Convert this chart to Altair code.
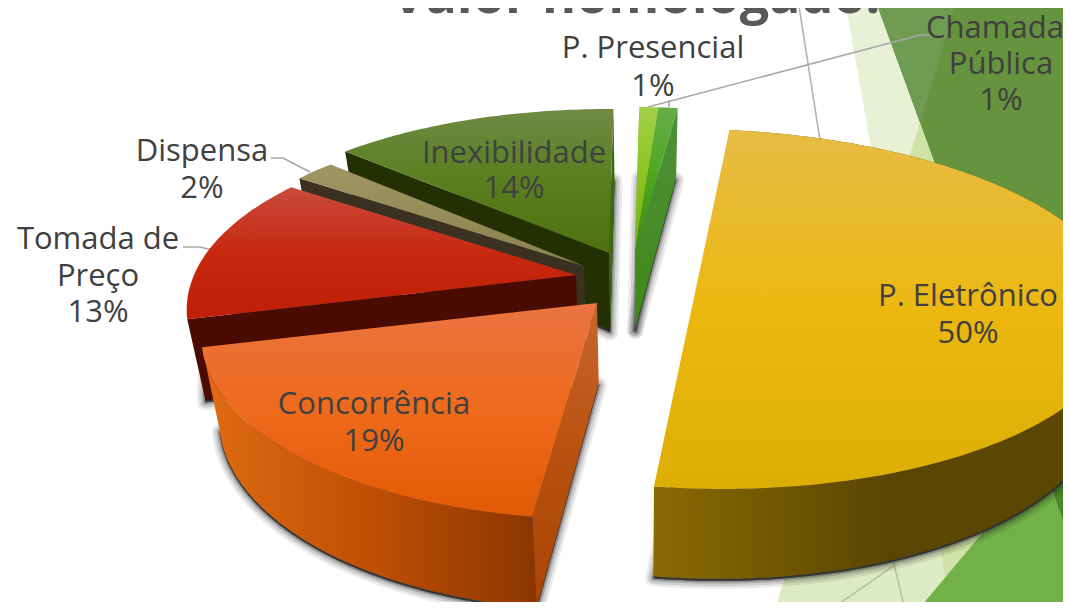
import math
import altair as alt
import pandas as pd

# ---- data
categories = ["P. Eletrônico", "Concorrência", "Tomada de Preço", "Dispensa",
              "Inexibilidade", "P. Presencial", "Chamada Pública"]
values = [50, 19, 13, 2, 14, 1, 1]

label_text = ["Chamada", "Pública", "1%", "P. Presencial", "1%", "Dispensa", "2%",
              "Tomada de", "Preço", "13%", "Inexibilidade", "14%",
              "P. Eletrônico", "50%", "Concorrência", "19%"]
label_x = [995, 1001, 1001, 653, 653, 202, 202, 98, 98, 98, 514, 514, 968, 968, 374, 374]
label_y = [29, 65, 101, 49, 87, 152, 189, 240, 277, 313, 154, 189, 297, 334, 405, 442]

# ---- scales and helpers
W, H = 1055, 594
SX = alt.Scale(domain=[8, 1063], nice=False, zero=False)
SY = alt.Scale(domain=[8, 602], nice=False, zero=False, reverse=True)
ROT, KP = 8.0, 0.2


def grad(colors, horizontal=False):
    n = len(colors) - 1
    stops = [alt.GradientStop(offset=i / n, color=c) for i, c in enumerate(colors)]
    if horizontal:
        return alt.Gradient(gradient="linear", stops=stops, x1=0, x2=1, y1=0, y2=0)
    return alt.Gradient(gradient="linear", stops=stops, x1=0, x2=0, y1=0, y2=1)


def poly(pts, **mark):
    df = pd.DataFrame({"x": [p[0] for p in pts], "y": [p[1] for p in pts],
                       "i": list(range(len(pts)))})
    mark.setdefault("strokeWidth", 0)
    return alt.Chart(df).mark_line(interpolate="linear-closed", clip=True, **mark).encode(
        x=alt.X("x:Q", scale=SX, axis=None),
        y=alt.Y("y:Q", scale=SY, axis=None),
        order=alt.Order("i:Q"),
    )


def path(pts, color="#a8a8a8", width=1.6):
    df = pd.DataFrame({"x": [p[0] for p in pts], "y": [p[1] for p in pts],
                       "i": list(range(len(pts)))})
    return alt.Chart(df).mark_line(color=color, strokeWidth=width, clip=True).encode(
        x=alt.X("x:Q", scale=SX, axis=None),
        y=alt.Y("y:Q", scale=SY, axis=None),
        order=alt.Order("i:Q"),
    )


def down(p):
    return (p[0] + (640 - p[0]) * 0.04, p[1] + 70 + (p[1] - 107) * 0.052)


def arc(apex, a0, a1, rx=382, ry=180, shear=0):
    n = max(int(abs(a1 - a0)), 2)
    out = []
    for j in range(n + 1):
        t = math.radians(a0 + (a1 - a0) * j / n)
        f = 1 - KP * math.cos(t)
        out.append((apex[0] + rx * f * math.sin(t) + shear * math.cos(t),
                    apex[1] - ry * f * math.cos(t)))
    return out


def side(a, b):
    return [a, b, down(b), down(a)]


# ---- slice angles come from the values
cum = [0]
for v in values:
    cum.append(cum[-1] + v)
ang = [ROT + 3.6 * c for c in cum]

apex = {0: (703, 273), 1: (597, 303), 2: (576, 275), 3: (584, 266),
        4: (609, 253), 5: (635, 251), 6: (635, 251)}
rxs = {0: 410, 1: 388, 4: 398}
shears = {0: -19.5}
arcs = {i: arc(apex[i], ang[i], ang[i + 1], rxs.get(i, 382), shear=shears.get(i, 0)) for i in range(7)}
surf = {i: [apex[i]] + arcs[i] for i in range(7)}
surf[0] = arcs[0]

# ---- decorative background
bg = [
    poly([(875, 0), (1071, 0), (1071, 520), (1047, 473), (937, 170)], fill="#66933d"),
    poly([(875, 0), (957, 0), (920, 123), (937, 170)], fill="#6f9b52"),
    poly([(845, 0), (875, 0), (937, 170), (880, 200)], fill="#e8f1d6"),
    poly([(908, 160), (920, 123), (937, 170), (925, 190)], fill="#cfe3a6"),
    poly([(775, 610), (790, 560), (1020, 495), (918, 610)], fill="#dcebc2"),
    poly([(940, 550), (1000, 515), (948, 587)], fill="#cfe3a6"),
    poly([(1040, 455), (1071, 430), (1071, 545)], fill="#4a862a"),
    poly([(918, 610), (1010, 500), (1045, 470), (1071, 543), (1071, 610)], fill="#71b147"),
]
lines = [
    path([(798, 0), (820, 140)], "#b4b4b4"),
    path([(893, 560), (905, 610)], "#b5c3a0"),
    path([(895, 565), (830, 610)], "#b5c3a0"),
    path([(648, 107), (920, 35), (932, 35)]),
    path([(669, 107), (669, 100)]),
    path([(271, 158), (283, 158), (310, 172)]),
    path([(183, 247), (200, 247), (212, 250)]),
]

# ---- blurred-looking shadows under the slices
shadows = []
for sw, op in [(16, 0.09), (11, 0.13), (6, 0.18), (3, 0.25)]:
    for i in range(7):
        base = [(x, y + 2) for x, y in map(down, surf[i])]
        shadows.append(poly(base, fill="#333333", fillOpacity=0.45, stroke="#222222",
                            strokeOpacity=op, strokeWidth=sw, strokeJoin="round"))

# ---- slices, back to front
T = {
    0: ["#e6bc45", "#ecb810", "#dcae05"],
    1: ["#ea7443", "#ee6a1c", "#e25a04"],
    2: ["#c94b3e", "#c8280e", "#bf1e07"],
    3: ["#a09663", "#8b8250"],
    4: ["#6e8a45", "#5a7f1e", "#4f7010"],
    5: ["#a3cf4a", "#8cc31e", "#7cb01a"],
    6: ["#66ac48", "#4ea71e", "#3f8a16"],
}
slices = []
# Presencial and Chamada
slices.append(poly(side(apex[5], arcs[5][0]), fill="#7fb51a"))
slices.append(poly(side(apex[5], arcs[5][-1]), fill="#4f9f1c"))
slices.append(poly(surf[5], fill=grad(T[5])))
slices.append(poly(side(apex[6], arcs[6][-1]), fill=grad(["#4f8f3c", "#3f8a16"])))
slices.append(poly(surf[6], fill=grad(T[6])))
# Inexibilidade
slices.append(poly(side(apex[4], arcs[4][0]), fill="#233003"))
slices.append(poly(side(apex[4], arcs[4][-1]), fill="#3d6a0c"))
slices.append(poly(surf[4], fill=grad(T[4])))
# Dispensa
slices.append(poly(side(apex[3], arcs[3][0]), fill="#3a3120"))
slices.append(poly(surf[3], fill=grad(T[3])))
# Tomada de Preço
slices.append(poly(side(apex[2], arcs[2][0]), fill="#4a0c02"))
slices.append(poly(surf[2], fill=grad(T[2])))
# Concorrência
rev = [down(p) for p in reversed(arcs[1])]
slices.append(poly(side(apex[1], arcs[1][0]), fill=grad(["#c9672f", "#b8500f", "#a84404"])))
slices.append(poly(arcs[1] + rev, fill=grad(["#e06c12", "#c04f05", "#8a3602"], True)))
slices.append(poly(surf[1], fill=grad(T[1])))
# P. Eletrônico
rev = [down(p) for p in reversed(arcs[0])]
slices.append(poly(arcs[0] + rev, fill=grad(["#8a6a02", "#5a4503", "#5c4705"], True)))
slices.append(poly(surf[0], fill=grad(T[0])))

# ---- text
lab_df = pd.DataFrame({"t": label_text, "x": label_x, "y": label_y})
labels = alt.Chart(lab_df).mark_text(
    font="Open Sans", fontSize=31, color="#404040", align="center", baseline="middle"
).encode(
    x=alt.X("x:Q", scale=SX, axis=None),
    y=alt.Y("y:Q", scale=SY, axis=None),
    text="t:N",
)
title = alt.Chart(pd.DataFrame({"t": ["Valor homologado:"], "x": [636], "y": [13]})).mark_text(
    font="Open Sans", fontSize=52, fontWeight="bold", color="#595959",
    align="center", baseline="alphabetic"
).encode(
    x=alt.X("x:Q", scale=SX, axis=None),
    y=alt.Y("y:Q", scale=SY, axis=None),
    text="t:N",
)

chart = alt.layer(*bg, *lines, title, *shadows, *slices, labels).properties(
    width=W, height=H, padding=0, background="white",
    autosize=alt.AutoSizeParams(type="none"),
).configure_view(stroke=None)

chart.save("out.html", embed_options={"renderer": "svg", "actions": False})
